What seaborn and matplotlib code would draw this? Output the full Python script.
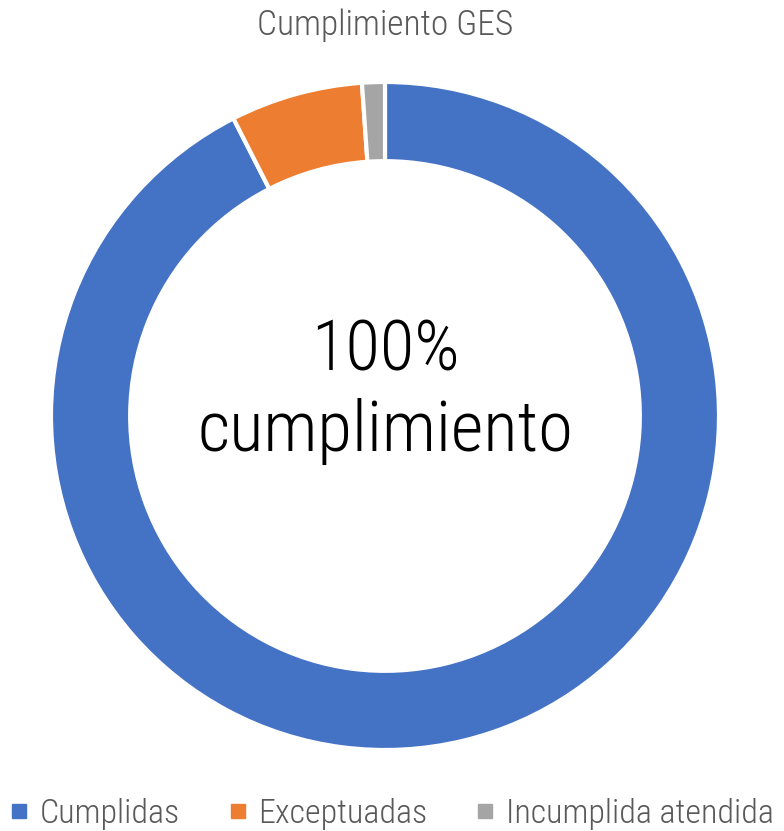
import seaborn as sns
import matplotlib.pyplot as plt
from matplotlib.lines import Line2D

# data (share of GES guarantees)
categories = ["Cumplidas", "Exceptuadas", "Incumplida atendida"]
values = [92.5, 6.4, 1.1]
colors = ["#4472C4", "#ED7D31", "#A5A5A5"]
center_label = "100%\ncumplimiento"
title = "Cumplimiento GES"

sns.set_theme(style="white")
plt.rcParams["font.family"] = ["Roboto Condensed", "Archivo Narrow", "DejaVu Sans"]
plt.rcParams["font.weight"] = "light"

fig = plt.figure(figsize=(7.84, 8.31), dpi=100)
ax = fig.add_axes([(385 - 334) / 784, 1 - (416 + 334) / 831, 668 / 784, 668 / 831])

ax.pie(values, colors=colors, startangle=90, counterclock=False, radius=1,
       wedgeprops=dict(width=0.237, edgecolor="white", linewidth=3))
ax.set_xlim(-1, 1)
ax.set_ylim(-1, 1)
ax.set_aspect("equal")
ax.axis("off")

ax.text(0, 0.075, center_label, ha="center", va="center", fontsize=51,
        color="black", linespacing=1.25)

fig.text(385 / 784, 1 - 25 / 831, title, ha="center", va="center",
         fontsize=25.5, color="#595959")

handles = [Line2D([0], [0], marker="s", linestyle="", markersize=10,
                  markerfacecolor=c, markeredgecolor=c) for c in colors]
fig.legend(handles, categories, loc="lower center", ncol=3,
           bbox_to_anchor=(0.5, -0.036), frameon=False, fontsize=24.5,
           labelcolor="#595959", handlelength=0.5, handletextpad=0.35,
           columnspacing=1.45, borderaxespad=0.5)

fig.savefig("out.png", dpi=100)
